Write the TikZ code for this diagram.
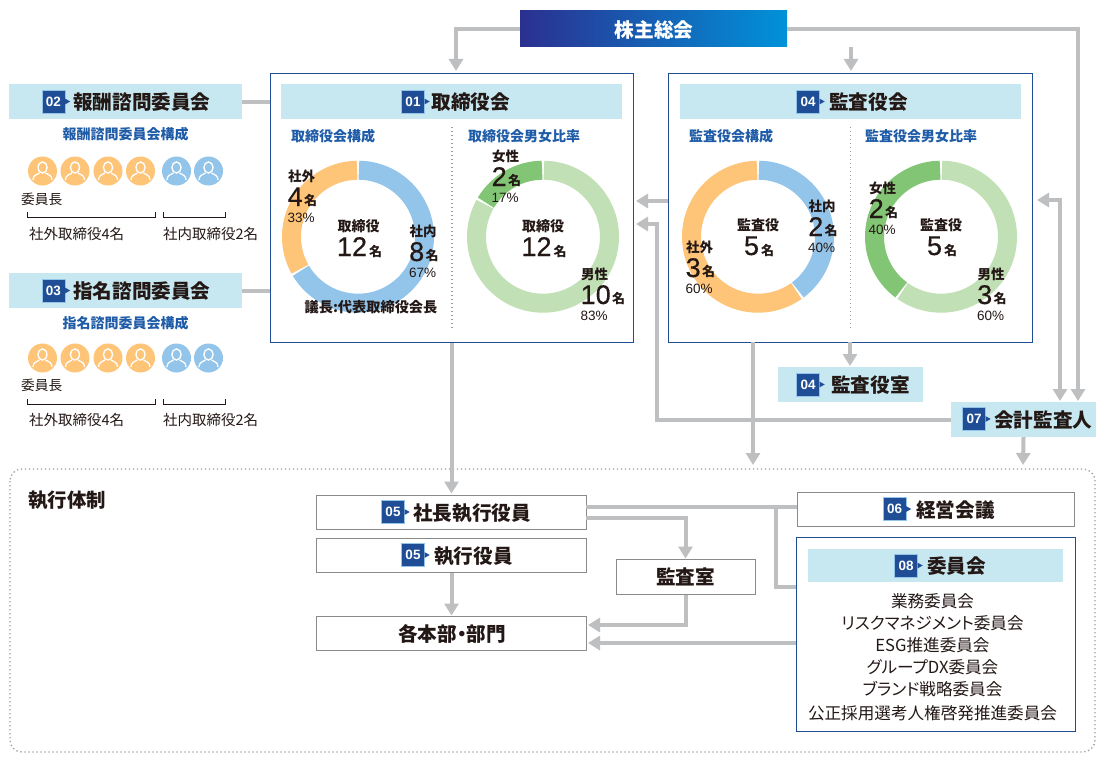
\documentclass[tikz,border=0pt]{standalone}
\usepackage{fontspec}
\usetikzlibrary{arrows.meta,calc}
\setmainfont{Noto Sans CJK JP}
\newfontfamily\palt[RawFeature=+palt]{Noto Sans CJK JP}
\newfontfamily\numf{Liberation Sans}
\newfontfamily\bigf[FakeBold=0.5]{Liberation Sans}
\definecolor{ink}{HTML}{231815}
\definecolor{conn}{HTML}{BEBFC1}
\definecolor{band}{HTML}{C7E8F0}
\definecolor{navy}{HTML}{1F4E96}
\definecolor{subblue}{HTML}{1F5CA8}
\definecolor{cblue}{HTML}{93C4EA}
\definecolor{corange}{HTML}{FEC478}
\definecolor{clight}{HTML}{C1E0B5}
\definecolor{cdark}{HTML}{82C675}
\definecolor{boxgray}{HTML}{8A8A8A}
\tikzset{
  tb/.style={font=\bfseries\fontsize{#1}{#1}\selectfont,text=ink,inner sep=0pt,text height={0.93*#1pt},text depth={0.07*#1pt}},
  tr/.style={font=\fontsize{#1}{#1}\selectfont,text=ink,inner sep=0pt,text height={0.93*#1pt},text depth={0.07*#1pt}},
  subt/.style={tb=14,text=subblue,anchor=west},
  headt/.style={tb=19.6,anchor=west},
  pct/.style={font=\numf\fontsize{13.5}{13.5}\selectfont,text=ink,inner sep=0pt,anchor=west},
  bignum/.style={font=\fontsize{13}{13}\bfseries\selectfont,text=ink,inner sep=0pt,anchor=base west},
  badge/.style={fill=navy,draw=cblue,line width=.4pt,minimum size=23pt,inner sep=0pt,text=white,font=\numf\bfseries\fontsize{13.5}{13.5}\selectfont},
  bandbox/.style={fill=band,inner sep=0pt},
  whitebox/.style={draw=boxgray,line width=1pt,fill=white,inner sep=0pt},
  bluebox/.style={draw=navy,line width=1pt,fill=white,inner sep=0pt},
  link/.style={draw=conn,line width=4pt},
  arrow/.style={link,-{Triangle[width=14pt,length=12pt]}},
  darrow/.style={link,{Triangle[width=14pt,length=12pt]}-{Triangle[width=14pt,length=12pt]}},
  dots/.style={draw=black!38,line width=1.3pt,dash pattern=on 1.3pt off 2.7pt},
  ph/.style={circle,inner sep=0pt,minimum size=29pt,fill=#1},
}
\newcommand\seg[5]{\draw[#1,line width=19pt] ($(#2,#3)+(#4:66.5pt)$) arc[start angle=#4,end angle=#5,radius=66.5pt];}
\newcommand\badgeat[4]{\node[badge] (#1) at (#2+11.5,#3) {#4};
  \fill[navy] ($(#1.east)+(0,2.8pt)$) -- ($(#1.east)+(5pt,0)$) -- ($(#1.east)+(0,-2.8pt)$) -- cycle;}
\newcommand\person[4]{\node[ph=#4] (#1) at (#2,#3) {};
  \begin{scope}[shift={(#2,#3)}]
  \draw[white,line width=1.3pt] (0,-3.5) ellipse [x radius=4.6pt,y radius=5.6pt];
  \draw[white,line width=1.3pt] (-9.5,9) .. controls (-9.5,4.5) and (-6,3.5) .. (-3,2) (3,2) .. controls (6,3.5) and (9.5,4.5) .. (9.5,9);
  \end{scope}}
% name, x, y of label centre, label, number, pct
\newcommand\stat[6]{\node[tb=13.5,anchor=west] (#1l) at (#2+.5,#3) {#4};
  \node[bignum] (#1n) at (#2,#3+30) {{\bigf\mdseries\fontsize{27}{27}\selectfont #5}\hspace{1.5pt}\raisebox{1pt}{名}};
  \node[pct] (#1p) at (#2,#3+41.5) {#6};}
\newcommand\centrestat[5]{\node[tb=14] (#1l) at (#2,#3) {#4};
  \node[bignum,anchor=base] (#1n) at (#2+1,#3+31) {{\bigf\mdseries\fontsize{27}{27}\selectfont #5}\hspace{2pt}{\fontsize{13}{13}\selectfont 名}};}
\begin{document}
\begin{tikzpicture}[x=1pt,y=-1pt]
\useasboundingbox (0,0) rectangle (1110,760);
\fill[white] (0,0) rectangle (1110,760);

% execution frame
\draw[dots,rounded corners=12pt] (10,469) rectangle (1095,752);

% boxes
\node[bluebox,minimum width=363pt,minimum height=269pt] (b1) at (451.5,207.5) {};
\node[bluebox,minimum width=364pt,minimum height=269pt] (b4) at (850,207.5) {};
\node[inner sep=0pt,minimum width=267pt,minimum height=36pt,shade,shading=axis,left color={rgb,255:red,43;green,48;blue,144},right color={rgb,255:red,0;green,146;blue,217},shading angle=90] (sh) at (653.5,29) {};
\node[tb=19.7,text=white] (shl) at (654,29) {株主総会};
\node[bandbox,minimum width=233pt,minimum height=35pt] (h2) at (125.5,101.5) {};
\node[bandbox,minimum width=233pt,minimum height=35pt] (h3) at (125.5,290.5) {};
\node[bandbox,minimum width=145pt,minimum height=35pt] (room) at (850.5,384.5) {};
\node[bandbox,minimum width=145pt,minimum height=35pt] (auditor) at (1023.5,419.5) {};
\node[whitebox,minimum width=270pt,minimum height=34pt] (pres) at (451.5,512) {};
\node[whitebox,minimum width=270pt,minimum height=34pt] (exec) at (451.5,555) {};
\node[whitebox,minimum width=270pt,minimum height=34pt] (dept) at (451.5,633) {};
\node[whitebox,minimum width=139pt,minimum height=35pt] (kansa) at (685.5,576.5) {};
\node[whitebox,minimum width=277pt,minimum height=34pt] (mgmt) at (935.5,509) {};
\node[bluebox,minimum width=279pt,minimum height=194pt] (comm) at (935.5,634) {};

% helper ends
\coordinate (t456) at (456,71);
\coordinate (t851) at (851,71);
\coordinate (t1078) at (1078,401);
\coordinate (t1060) at (1060,401);
\coordinate (t1037) at (1037,200);
\coordinate (s668) at (668,201);
\coordinate (t636) at (636,201);
\coordinate (t636b) at (636,224);
\coordinate (c657) at (657,224);
\coordinate (s753) at (753,342);
\coordinate (t753) at (753,465);
\coordinate (t1023) at (1023,465);
\coordinate (s850) at (850,342);
\coordinate (t850) at (850,366);
\coordinate (s586a) at (586,506.5);
\coordinate (s586b) at (586,518);
\coordinate (j776) at (776,506.5);
\coordinate (e796) at (796,587);
\coordinate (e797) at (797,506.5);
\coordinate (t588a) at (588,625);
\coordinate (t588b) at (588,643);
\coordinate (s796) at (796,643);

% connectors
\draw[arrow] (sh.west) -| (t456);
\draw[arrow] (sh.south -| t851) -- (t851);
\draw[arrow] (sh.east) -| (t1078);
\draw[darrow] (t1037) -| (t1060);
\draw[arrow] (s668) -- (t636);
\draw[arrow] (auditor.west) -| (c657) -- (t636b);
\draw[link] (h2.east) -- (b1.west |- h2.east);
\draw[link] (h3.east) -- (b1.west |- h3.east);
\draw[arrow] (b1.south) -- ($(pres.north)+(0,-1)$);
\draw[arrow] (s753) -- (t753);
\draw[arrow] (s850) -- (t850);
\draw[arrow] (auditor.south) -- (t1023);
\draw[link] (s586a) -- (e797);
\draw[link] (j776) |- (e796);
\draw[arrow] (s586b) -| (kansa.north);
\draw[arrow] (exec.south) -- (dept.north);
\draw[arrow] (kansa.south) |- (t588a);
\draw[arrow] (s796) -- (t588b);

% board dividers
\draw[dots] (452,127) -- (452,328);
\draw[dots] (850.5,127) -- (850.5,328);

% header bands inside boxes
\node[bandbox,minimum width=341pt,minimum height=35pt] (h1) at (451.5,101.5) {};
\node[bandbox,minimum width=341pt,minimum height=35pt] (h4) at (850.5,101.5) {};
\node[bandbox,minimum width=255pt,minimum height=33pt] (h8) at (935.5,565.5) {};

% badges and titles
\badgeat{b01}{401.5}{101.5}{01}\node[headt] (t01) at (431.5,101.5) {取締役会};
\badgeat{b02}{42}{101.5}{02}\node[headt] (t02) at (73,101.5) {報酬諮問委員会};
\badgeat{b03}{42}{290.5}{03}\node[headt] (t03) at (73,290.5) {指名諮問委員会};
\badgeat{b04}{796.5}{101.5}{04}\node[headt] (t04) at (829,101.5) {監査役会};
\badgeat{b04r}{796.5}{384.5}{04}\node[headt] (t04r) at (831,384.5) {監査役室};
\badgeat{b07}{962.5}{419}{07}\node[headt] (t07) at (994,419) {会計監査人};
\badgeat{b05a}{381.5}{512}{05}\node[headt] (t05a) at (413,512) {社長執行役員};
\badgeat{b05b}{401.5}{555}{05}\node[headt] (t05b) at (434,555) {執行役員};
\badgeat{b06}{883}{509}{06}\node[headt] (t06) at (916,509) {経営会議};
\badgeat{b08}{894.5}{565.5}{08}\node[headt] (t08) at (927,565.5) {委員会};
\node[tb=19.6] (tdept) at (452,633) {各本部\hspace{-5pt}・\hspace{-5pt}部門};
\node[tb=19.6] (tkansa) at (685.5,576) {監査室};
\node[tb=19.4,anchor=west] (texec) at (28,499) {執行体制};

% subtitles
\node[subt] (s1) at (291,135) {取締役会構成};
\node[subt] (s2) at (468,135) {取締役会男女比率};
\node[subt] (s3) at (689,135) {監査役会構成};
\node[subt] (s4) at (865,135) {監査役会男女比率};
\node[subt,anchor=center] (s5) at (125.5,133.5) {報酬諮問委員会構成};
\node[subt,anchor=center] (s6) at (125.5,322) {指名諮問委員会構成};

% donuts
\seg{cblue}{358}{236.7}{89.2}{-149.2}
\seg{corange}{358}{236.7}{-150.8}{-269.2}
\seg{clight}{543}{236.7}{89.2}{-209.2}
\seg{cdark}{543}{236.7}{-210.8}{-269.2}
\seg{cblue}{758}{236.7}{89.2}{-53.2}
\seg{corange}{758}{236.7}{-54.8}{-269.2}
\seg{clight}{941}{236.7}{89.2}{-125.2}
\seg{cdark}{941}{236.7}{-126.8}{-269.2}

% donut captions
\centrestat{c1}{358.5}{225}{取締役}{12}
\centrestat{c2}{543}{225}{取締役}{12}
\centrestat{c3}{758}{224}{監査役}{5}
\centrestat{c4}{941}{224}{監査役}{5}
\stat{d1a}{287.5}{176}{社外}{4}{33\%}
\stat{d1b}{409}{231}{社内}{8}{67\%}
\stat{d2a}{491.5}{156}{女性}{2}{17\%}
\stat{d2b}{580.5}{274}{男性}{10}{83\%}
\stat{d3a}{808}{206}{社内}{2}{40\%}
\stat{d3b}{685.5}{247}{社外}{3}{60\%}
\stat{d4a}{868.5}{188}{女性}{2}{40\%}
\stat{d4b}{977}{274}{男性}{3}{60\%}
\node[tb=14.2] (chair) at (371,306) {議長:代表取締役会長};

% people, first committee
\person{p1}{42.5}{171}{corange}\person{p2}{75}{171}{corange}\person{p3}{108}{171}{corange}\person{p4}{140.5}{171}{corange}
\person{p5}{176.5}{171}{cblue}\person{p6}{208.5}{171}{cblue}
\node[tr=13.7,anchor=west] (ch1) at (21,199) {委員長};
\coordinate (q1) at (27,212);\coordinate (q2) at (155,212);\coordinate (q3) at (163.5,212);\coordinate (q4) at (225,212);
\draw[ink,line width=.8pt] (q1) -- ++(0,5) -| (q2);
\draw[ink,line width=.8pt] (q3) -- ++(0,5) -| (q4);
\node[tr=14.5,anchor=west] (n1) at (29,233) {社外取締役4名};
\node[tr=14.5,anchor=west] (n2) at (163,233) {社内取締役2名};

% people, second committee
\person{r1}{42.5}{358}{corange}\person{r2}{75}{358}{corange}\person{r3}{108}{358}{corange}\person{r4}{140.5}{358}{corange}
\person{r5}{176.5}{358}{cblue}\person{r6}{208.5}{358}{cblue}
\node[tr=13.7,anchor=west] (ch2) at (21,385) {委員長};
\coordinate (u1) at (27,399);\coordinate (u2) at (155,399);\coordinate (u3) at (163.5,399);\coordinate (u4) at (225,399);
\draw[ink,line width=.8pt] (u1) -- ++(0,5) -| (u2);
\draw[ink,line width=.8pt] (u3) -- ++(0,5) -| (u4);
\node[tr=14.5,anchor=west] (n3) at (29,419) {社外取締役4名};
\node[tr=14.5,anchor=west] (n4) at (163,419) {社内取締役2名};

% committee list
\node[tr=16.6] (l1) at (932.5,600) {業務委員会};
\node[tr=16.6,font=\palt\fontsize{16.6}{16.6}\selectfont] (l2) at (932.5,622) {リスクマネジメント委員会};
\node[tr=16.6] (l3) at (932.5,644) {ESG推進委員会};
\node[tr=16.6,font=\palt\fontsize{16.6}{16.6}\selectfont] (l4) at (932.5,666) {グループDX委員会};
\node[tr=16.6,font=\palt\fontsize{16.6}{16.6}\selectfont] (l5) at (932.5,688) {ブランド戦略委員会};
\node[tr=16.6] (l6) at (932.5,712) {公正採用選考人権啓発推進委員会};
\end{tikzpicture}
\end{document}
